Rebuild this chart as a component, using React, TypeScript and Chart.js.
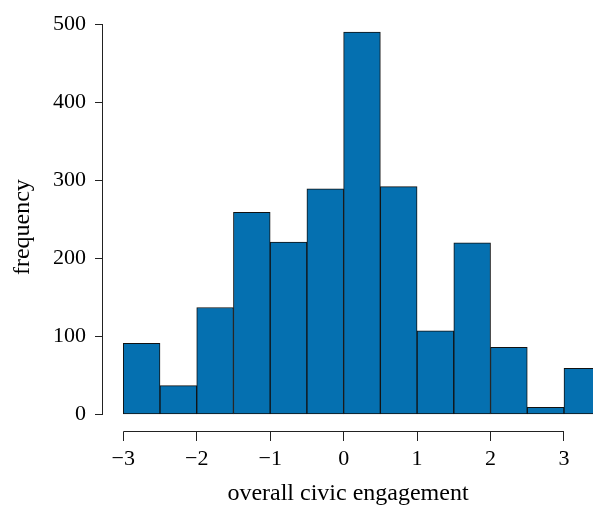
import React, { useEffect, useRef } from 'react';
import { Chart, registerables, ChartConfiguration, Plugin } from 'chart.js';

Chart.register(...registerables);

// histogram bins (width 0.5), left edges from -3
const binCenters = [-2.75, -2.25, -1.75, -1.25, -0.75, -0.25, 0.25, 0.75, 1.25, 1.75, 2.25, 2.75, 3.25];
const frequencies = [91, 37, 137, 259, 221, 289, 490, 292, 107, 220, 86, 9, 59];
const xTicks = [-3, -2, -1, 0, 1, 2, 3];
const yTicks = [0, 100, 200, 300, 400, 500];

const FONT = "'Liberation Serif', 'Times New Roman', serif";
const AXIS = '#222';

// R-style detached axis lines, only spanning the tick range
const axisLines: Plugin = {
    id: 'axisLines',
    afterDraw(chart) {
        const { ctx, chartArea, scales } = chart;
        const x = scales.x;
        const y = scales.y;
        ctx.save();
        ctx.strokeStyle = AXIS;
        ctx.lineWidth = 1;
        ctx.beginPath();
        ctx.moveTo(x.getPixelForValue(xTicks[0]), chartArea.bottom - 0.5);
        ctx.lineTo(x.getPixelForValue(xTicks[xTicks.length - 1]), chartArea.bottom - 0.5);
        ctx.moveTo(chartArea.left - 0.5, y.getPixelForValue(yTicks[0]));
        ctx.lineTo(chartArea.left - 0.5, y.getPixelForValue(yTicks[yTicks.length - 1]));
        ctx.stroke();
        ctx.restore();
    }
};

const fmt = (v: number) => (v < 0 ? '\u2212' + Math.abs(v) : String(v));

const App: React.FC = () => {
    const canvasRef = useRef<HTMLCanvasElement>(null);
    const chartRef = useRef<Chart | null>(null);

    useEffect(() => {
        document.body.style.margin = '0';
        if (!canvasRef.current) return;
        const ctx = canvasRef.current.getContext('2d');
        if (!ctx) return;
        if (chartRef.current) chartRef.current.destroy();

        const config: ChartConfiguration = {
            type: 'bar',
            data: {
                datasets: [{
                    data: binCenters.map((c, i) => ({ x: c, y: frequencies[i] })),
                    backgroundColor: '#0570b0',
                    borderColor: '#111',
                    borderWidth: 1,
                    borderSkipped: false,
                    barPercentage: 1,
                    categoryPercentage: 1
                }]
            },
            options: {
                responsive: true,
                maintainAspectRatio: false,
                animation: false,
                layout: { padding: { top: 9, right: 0, left: 0, bottom: 0 } },
                plugins: {
                    legend: { display: false },
                    tooltip: { enabled: false }
                },
                scales: {
                    x: {
                        type: 'linear',
                        offset: false,
                        min: -3.276,
                        max: 3.395,
                        afterBuildTicks: (s) => { s.ticks = xTicks.map(v => ({ value: v })); },
                        afterFit: (s) => { s.height = 74; },
                        grid: { display: true, offset: false, drawOnChartArea: false, drawTicks: true, tickLength: 9, color: AXIS },
                        border: { display: false },
                        ticks: {
                            color: '#000',
                            padding: 5,
                            maxRotation: 0,
                            autoSkip: false,
                            font: { family: FONT, size: 22 },
                            callback: (v) => fmt(Number(v))
                        },
                        title: {
                            display: true,
                            text: 'overall civic engagement',
                            color: '#000',
                            font: { family: FONT, size: 24, lineHeight: 1.05 },
                            padding: { top: 0, bottom: 0 }
                        }
                    },
                    y: {
                        min: -22.5,
                        max: 502.6,
                        afterBuildTicks: (s) => { s.ticks = yTicks.map(v => ({ value: v })); },
                        afterFit: (s) => { s.width = 103; },
                        grid: { display: true, drawOnChartArea: false, drawTicks: true, tickLength: 8, color: AXIS },
                        border: { display: false },
                        ticks: {
                            color: '#000',
                            padding: 9,
                            autoSkip: false,
                            font: { family: FONT, size: 22 },
                            callback: (v) => fmt(Number(v))
                        },
                        title: {
                            display: true,
                            text: 'frequency',
                            color: '#000',
                            font: { family: FONT, size: 24 },
                            padding: { top: 8, bottom: 0 }
                        }
                    }
                }
            },
            plugins: [axisLines]
        };

        chartRef.current = new Chart(ctx, config);

        return () => {
            if (chartRef.current) {
                chartRef.current.destroy();
                chartRef.current = null;
            }
        };
    }, []);

    return (
        <div style={{ position: 'relative', width: 593, height: 506 }}>
            <canvas ref={canvasRef}></canvas>
        </div>
    );
};

export default App;
